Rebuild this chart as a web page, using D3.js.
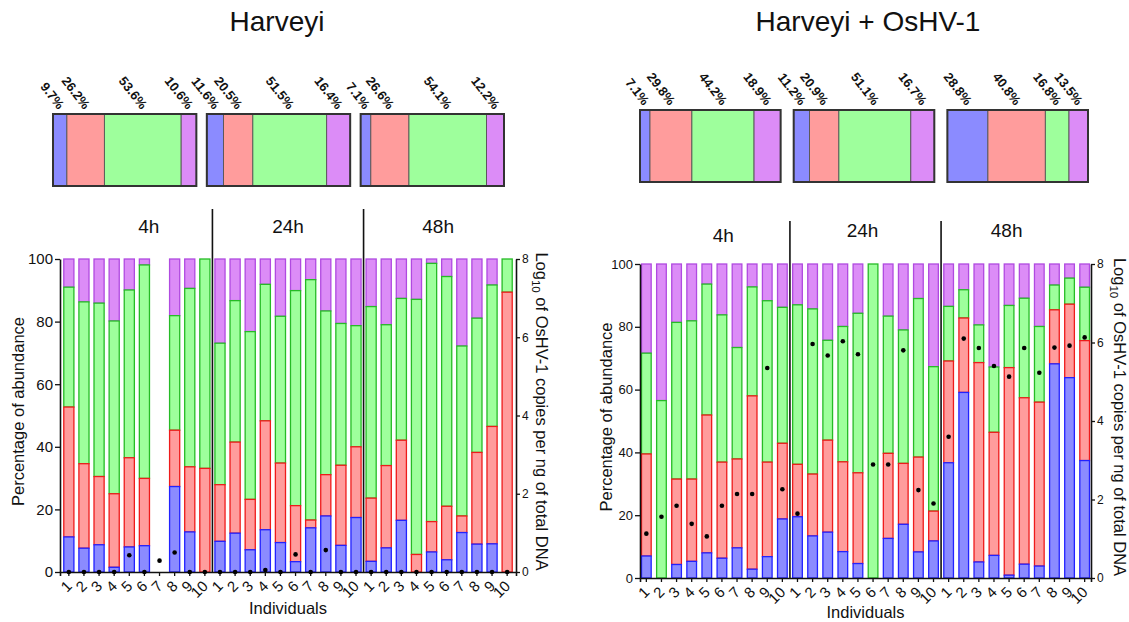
<!DOCTYPE html>
<html><head><meta charset="utf-8">
<script src="https://cdn.jsdelivr.net/npm/d3@7"></script>
<style>
body{margin:0;background:#fff}
svg{display:block}
text{font-family:"Liberation Sans",Arial,Helvetica,sans-serif;fill:#111}
</style>
</head><body>
<svg id="c" width="1129" height="622"></svg>
<script>
// ---------- data ----------
const timePoints = ["4h", "24h", "48h"];
const individuals = ["1","2","3","4","5","6","7","8","9","10"];
const tickLabels = timePoints.flatMap(() => individuals);
const seriesKeys = ["blue", "red", "green", "purple"];

// Harveyi panel (percent of abundance per individual)
const harveyiBlue   = [11.2,7.6,8.7,1.5,8.0,8.4,null,27.3,12.8,0, 9.8,12.4,7.1,13.5,9.4,3.3,14.1,17.9,8.5,17.4, 3.4,7.7,16.5,0,6.4,3.9,12.6,8.9,9.0,0];
const harveyiRed    = [41.5,27.0,21.8,23.5,28.5,21.5,null,18.0,20.8,33.1, 18.1,29.1,16.1,34.8,25.4,17.9,2.5,13.2,25.6,22.6, 20.2,26.3,25.6,5.6,9.7,17.1,5.3,29.3,37.5,89.4];
const harveyiGreen  = [38.3,51.7,55.4,55.2,53.6,68.2,null,36.6,57.0,66.9, 45.2,45.2,53.6,43.6,46.9,68.7,76.8,52.3,45.3,38.7, 61.2,45.0,45.3,81.5,82.5,73.4,54.3,42.9,45.2,10.6];
const harveyiPurple = [9.0,13.7,14.1,19.8,9.9,1.9,null,18.1,9.4,0, 26.9,13.3,23.2,8.1,18.3,10.1,6.6,16.6,20.6,21.3, 15.2,21.0,12.6,12.9,1.4,5.6,27.8,18.9,8.3,0];
const harveyiCopies = [0,0,0,0,0.43,0,0.29,0.5,0,0, 0,0,0,0.05,0,0.45,0,0.56,0,0, 0,0,0,0,0,0,0,0,0,0];
const harveyiSummary4h  = [9.7, 26.2, 53.6, 10.6];
const harveyiSummary24h = [11.6, 20.5, 51.5, 16.4];
const harveyiSummary48h = [7.1, 26.6, 54.1, 12.2];

// Harveyi + OsHV-1 panel
const oshvBlue   = [7.0,0,4.3,5.3,8.0,6.3,9.6,2.8,6.8,18.8, 19.5,13.4,14.6,8.4,4.6,0,12.6,17.1,8.3,11.8, 36.7,59.1,5.1,7.2,0.9,4.4,3.8,68.2,63.8,37.4];
const oshvRed    = [32.5,0,27.2,26.2,43.9,30.6,28.3,55.2,30.1,24.1, 16.7,19.7,29.3,28.6,28.9,0,27.1,19.4,30.2,9.5, 32.4,23.7,63.5,39.2,66.1,53.0,52.2,17.2,23.4,38.2];
const oshvGreen  = [32.1,56.5,49.9,50.4,41.7,46.9,35.5,34.7,51.4,43.3, 50.8,52.6,31.8,43.1,50.8,100,43.7,42.5,50.5,46.0, 17.4,9.0,12.0,20.8,19.8,31.7,24.1,7.9,8.3,17.0];
const oshvPurple = [28.4,43.5,18.6,18.1,6.4,16.2,26.6,7.3,11.7,13.8, 13.0,14.3,24.3,19.9,15.7,0,16.6,21.0,11.0,32.7, 13.5,8.2,19.4,32.8,13.2,10.9,19.9,6.7,4.5,7.4];
const oshvCopies = [1.13,1.56,1.84,1.38,1.06,1.84,2.14,2.14,5.35,2.26, 1.64,5.96,5.67,6.03,5.7,2.89,2.89,5.8,2.24,1.9, 3.6,6.1,5.86,5.4,5.13,5.86,5.23,5.87,5.92,6.13];
const oshvSummary4h  = [7.1, 29.8, 44.2, 18.9];
const oshvSummary24h = [11.2, 20.9, 51.1, 16.7];
const oshvSummary48h = [28.8, 40.8, 16.8, 13.5];

const pctTicks = [0, 20, 40, 60, 80, 100];
const copyTicks = [0, 2, 4, 6, 8];

// ---------- styles ----------
const colors = {
  blue:   {fill: "#8b8bff", stroke: "#2222ff"},
  red:    {fill: "#ff9c9c", stroke: "#ee1b1b"},
  green:  {fill: "#9eff9c", stroke: "#26bb26"},
  purple: {fill: "#dc8cf7", stroke: "#b04ae0"}
};

const svg = d3.select("#c");

function drawPanel(o) {
  const g = svg.append("g");
  const n = tickLabels.length;
  const x = d3.scaleBand().domain(d3.range(n)).range([o.x0, o.x1])
    .paddingInner(o.pi).paddingOuter(o.po);
  const y = d3.scaleLinear().domain([0, 100]).range([o.yBot, o.yTop]);
  const y2 = d3.scaleLinear().domain([0, 8]).range([o.yBot, o.yTop]);

  // title
  g.append("text").attr("x", o.titleX).attr("y", 31).attr("text-anchor", "middle")
    .attr("font-size", 28).text(o.title);

  // summary boxes
  const bx = d3.scaleBand().domain(timePoints).range([o.box.x0, o.box.x1]).paddingInner(o.box.pad);
  timePoints.forEach((t, ti) => {
    const vals = o.summary[ti];
    const sx = d3.scaleLinear().domain([0, d3.sum(vals)]).range([bx(t), bx(t) + bx.bandwidth()]);
    let cum = 0;
    const segs = vals.map((v, k) => { const s = {k: seriesKeys[k], a: cum, b: cum + v, v}; cum += v; return s; });
    const bg = g.append("g");
    bg.selectAll("rect.seg").data(segs).join("rect").attr("class", "seg")
      .attr("x", d => sx(d.a)).attr("width", d => sx(d.b) - sx(d.a))
      .attr("y", o.box.y0).attr("height", o.box.y1 - o.box.y0)
      .attr("fill", d => colors[d.k].fill).attr("stroke", "#555").attr("stroke-width", 0.9);
    bg.append("rect").attr("x", bx(t)).attr("width", bx.bandwidth())
      .attr("y", o.box.y0).attr("height", o.box.y1 - o.box.y0)
      .attr("fill", "none").attr("stroke", "#333").attr("stroke-width", 2);
    bg.selectAll("text").data(segs).join("text")
      .attr("text-anchor", "end").attr("font-size", 13).attr("font-weight", "bold")
      .attr("transform", d => `translate(${(sx(d.a) + sx(d.b)) / 2 - 2},${o.box.y0 - 4}) rotate(52)`)
      .text(d => d.v.toFixed(1) + "%");
  });

  // stacked bars
  const rows = d3.range(n).map(i => {
    const r = {};
    seriesKeys.forEach(k => r[k] = o.series[k][i] ?? 0);
    return r;
  });
  const stacked = d3.stack().keys(seriesKeys)(rows);
  stacked.slice().reverse().forEach(layer => {
    g.append("g").selectAll("rect")
      .data(layer.map((d, i) => ({d, i})).filter(e => e.d[1] - e.d[0] > 0.05))
      .join("rect")
      .attr("x", e => x(e.i)).attr("width", x.bandwidth())
      .attr("y", e => y(e.d[1])).attr("height", e => y(e.d[0]) - y(e.d[1]))
      .attr("fill", colors[layer.key].fill)
      .attr("stroke", colors[layer.key].stroke).attr("stroke-width", 1.3);
  });

  // separators between time points
  [10, 20].forEach(b => {
    const sx = (x(b - 1) + x.bandwidth() + x(b)) / 2;
    g.append("line").attr("x1", sx).attr("x2", sx).attr("y1", o.sepTop).attr("y2", o.yBot)
      .attr("stroke", "#111").attr("stroke-width", 1.6);
  });

  // time labels
  timePoints.forEach((t, ti) => {
    const cx = (x(ti * 10) + x(ti * 10 + 9) + x.bandwidth()) / 2 + o.timeDx[ti];
    g.append("text").attr("x", cx).attr("y", o.timeY[ti]).attr("text-anchor", "middle")
      .attr("font-size", 19).text(t);
  });

  // axes
  const ax = g.append("g").attr("transform", `translate(0,${o.yBot})`)
    .call(d3.axisBottom(x).tickSizeOuter(0).tickSize(4).tickFormat(i => tickLabels[i]));
  ax.selectAll("text").attr("text-anchor", "end").attr("font-size", 15).attr("fill", "#111")
    .attr("x", null).attr("y", null).attr("dy", null)
    .attr("transform", "translate(4,15) rotate(-45)");

  const ayl = g.append("g").attr("transform", `translate(${o.x0},0)`)
    .call(d3.axisLeft(y).tickValues(pctTicks).tickSize(5).tickSizeOuter(0).tickPadding(2));
  ayl.selectAll("text").attr("font-size", o.yTickFont).attr("fill", "#111");

  const ayr = g.append("g").attr("transform", `translate(${o.x1},0)`)
    .call(d3.axisRight(y2).tickValues(copyTicks).tickSize(4).tickSizeOuter(0).tickPadding(2));
  ayr.selectAll("text").attr("font-size", 12).attr("fill", "#222");

  [ax, ayl, ayr].forEach(a => {
    a.select(".domain").attr("stroke", "#111").attr("stroke-width", 1.6);
    a.selectAll(".tick line").attr("stroke", "#111").attr("stroke-width", 1.3);
  });

  // virus copies (dots)
  g.append("g").selectAll("circle").data(o.copies).join("circle")
    .attr("cx", (d, i) => x(i) + x.bandwidth() / 2).attr("cy", d => y2(d))
    .attr("r", 2.3).attr("fill", "#000");

  // axis titles
  const midY = (o.yTop + o.yBot) / 2 - 4;
  g.append("text").attr("transform", `translate(${o.yLabelX},${midY}) rotate(-90)`)
    .attr("text-anchor", "middle").attr("font-size", 16.5).text("Percentage of abundance");
  const rt = g.append("text").attr("transform", `translate(${o.rLabelX},${midY}) rotate(90)`)
    .attr("text-anchor", "middle").attr("font-size", 16.5);
  rt.append("tspan").text("Log");
  rt.append("tspan").attr("font-size", 11.5).attr("dy", 4).text("10");
  rt.append("tspan").attr("dy", -4).text(" of OsHV-1  copies per ng of total DNA");
  g.append("text").attr("x", (o.x0 + o.x1) / 2).attr("y", o.xLabelY).attr("text-anchor", "middle")
    .attr("font-size", 16.5).text("Individuals");
}

drawPanel({
  title: "Harveyi", titleX: 277,
  x0: 60, x1: 516, pi: 0.33, po: 0.25, yTop: 259, yBot: 572,
  box: {x0: 53, x1: 504, y0: 114, y1: 186, pad: 0.068},
  summary: [harveyiSummary4h, harveyiSummary24h, harveyiSummary48h],
  series: {blue: harveyiBlue, red: harveyiRed, green: harveyiGreen, purple: harveyiPurple},
  copies: harveyiCopies,
  sepTop: 209, timeY: [233, 233, 233], timeDx: [12, 0, -1],
  yTickFont: 15, yLabelX: 24, rLabelX: 536, xLabelY: 614
});

drawPanel({
  title: "Harveyi + OsHV-1", titleX: 868,
  x0: 640, x1: 1091, pi: 0.36, po: 0.1, yTop: 264, yBot: 578,
  box: {x0: 640, x1: 1088, y0: 110, y1: 182, pad: 0.085},
  summary: [oshvSummary4h, oshvSummary24h, oshvSummary48h],
  series: {blue: oshvBlue, red: oshvRed, green: oshvGreen, purple: oshvPurple},
  copies: oshvCopies,
  sepTop: 221, timeY: [242, 237, 237], timeDx: [9, -3, -10],
  yTickFont: 13, yLabelX: 612, rLabelX: 1114, xLabelY: 618
});
</script>
</body></html>
